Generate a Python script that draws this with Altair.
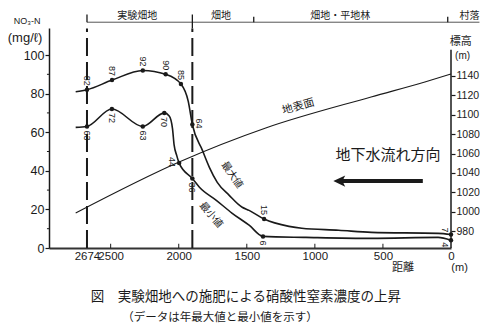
import altair as alt
import pandas as pd

# ---------------- data ----------------
# annual maximum NO3-N curve (distance m, mg/l)
max_d = [2757, 2674, 2490, 2264, 2096, 1984, 1930, 1900, 1826, 1775, 1717, 1629, 1534, 1483, 1373, 1190, 1096, 825, 584, 95, 0]
max_v = [81, 82, 87, 92, 90, 85, 76, 64, 50.6, 41.8, 34, 27.3, 21.1, 19.5, 15, 11.2, 10.2, 9.2, 8.1, 7.6, 7]
# annual minimum NO3-N curve
min_d = [2757, 2674, 2491, 2264, 2106, 2070, 2046, 2034, 2015, 1997, 1900, 1848, 1724, 1607, 1483, 1381, 1066, 584, 95, 0]
min_v = [62.5, 63, 72, 63, 70, 68.4, 62, 53.4, 48, 44, 36, 31.5, 24.7, 18, 11.8, 6, 5.5, 5, 5.5, 4]
# measured (labelled) points
max_pt_d = [2674, 2490, 2264, 2096, 1984, 1900, 1373, 0]
max_pt_v = [82, 87, 92, 90, 85, 64, 15, 7]
max_pt_pos = ["above", "above", "above", "above", "above", "right", "above", "aboveleft"]
min_pt_d = [2674, 2491, 2264, 2106, 1997, 1900, 1381, 0]
min_pt_v = [63, 72, 63, 70, 44, 36, 6, 4]
min_pt_pos = ["below", "below", "below", "below", "left", "below", "below", "belowleft"]
# ground surface elevation (m)
ground_d = [2757, 1997, 1361, 587, 192, 0]
ground_e = [998.6, 1051.2, 1086.3, 1118.3, 1133.8, 1142]
# axes
x_labels = [2674, 2500, 2000, 1500, 1000, 500, 0]
x_inner_ticks = [2500, 2000, 1500, 1000, 500]
y_ticks = [0, 20, 40, 60, 80, 100]
y_minor = [10, 30, 50, 70, 90]
e_ticks = [980, 1000, 1020, 1040, 1060, 1080, 1100, 1120, 1140]
# land-use zones along the top
zone_names = ["実験畑地", "畑地", "畑地・平地林", "村落"]
zone_centers = [2304, 1690, 813, -136]
zone_bounds = [1449, 24]
exp_field = [2674, 1900]

INK = "#1a1a1a"
JP = "Noto Sans CJK JP"
NUM = "Liberation Sans"

XS = alt.Scale(domain=[0, 2953], reverse=True, nice=False, zero=False)
YS = alt.Scale(domain=[0, 114], nice=False, zero=False)
ES = alt.Scale(domain=[962.5, 1189.5], nice=False, zero=False)

XAX = alt.Axis(values=x_labels, title=None, ticks=False, labelFontSize=11.5, labelFont=NUM,
               labelColor=INK, labelPadding=2, labelOverlap=False, labelFlush=False,
               domainColor="#333", domainWidth=2, grid=False, format="d")
YAX = alt.Axis(values=y_ticks, title=None, tickSize=4, tickColor=INK, tickWidth=1.2,
               labelFontSize=12.5, labelFont=NUM, labelColor=INK, labelPadding=1,
               domainColor=INK, domainWidth=1.5, grid=False)
EAX = alt.Axis(orient="right", values=e_ticks, title=None, tickSize=4, tickColor=INK,
               tickWidth=1.2, labelFontSize=10.5, labelFont=NUM, labelColor=INK,
               labelPadding=1, domain=False, grid=False, format="d", labelBound=False)


def X(f="d"):
    return alt.X(f"{f}:Q", scale=XS, axis=XAX)


def Y(f="v"):
    return alt.Y(f"{f}:Q", scale=YS, axis=YAX)


def note(text, d, v, size, angle=0, font=JP, align="center", baseline="middle", weight="normal"):
    df = pd.DataFrame({"d": [d], "v": [v], "t": [text]})
    return alt.Chart(df).mark_text(font=font, fontSize=size, angle=angle, align=align,
                                   baseline=baseline, color=INK, fontWeight=weight).encode(
        x=X(), y=Y(), text="t:N")


layers = []

# dashed boundaries of the experimental field
bdf = pd.DataFrame({"d": exp_field, "v": [0, 0], "v2": [113.8, 113.8]})
layers.append(alt.Chart(bdf).mark_rule(color=INK, strokeWidth=2, strokeDash=[18, 6]).encode(
    x=X(), y=Y(), y2="v2:Q"))

# curves
mdf = pd.DataFrame({"d": max_d, "v": max_v})
ndf = pd.DataFrame({"d": min_d, "v": min_v})
for df in (mdf, ndf):
    layers.append(alt.Chart(df).mark_line(interpolate="monotone", color=INK, strokeWidth=1.6).encode(
        x=X(), y=Y(), order=alt.Order("d:Q", sort="descending")))

# points
pdf = pd.DataFrame({"d": max_pt_d + min_pt_d, "v": max_pt_v + min_pt_v,
                    "pos": max_pt_pos + min_pt_pos})
pdf["lab"] = pdf["v"].astype(int).astype(str)
layers.append(alt.Chart(pdf).mark_point(filled=True, size=20, color=INK, opacity=1).encode(
    x=X(), y=Y()))

# point labels (rotated 90 deg, reading top to bottom)
placements = {
    "above": dict(align="right", dx=-4, dy=0),
    "below": dict(align="left", dx=4, dy=0),
    "right": dict(align="center", dx=-1, dy=-7),
    "left": dict(align="center", dx=-1, dy=7),
    "aboveleft": dict(align="right", dx=-2, dy=6),
    "belowleft": dict(align="left", dx=2, dy=6),
}
for pos, kw in placements.items():
    layers.append(alt.Chart(pdf).transform_filter(alt.datum.pos == pos).mark_text(
        font=NUM, fontSize=9, angle=90, baseline="middle", color=INK, **kw).encode(
        x=X(), y=Y(), text="lab:N"))

# inner x ticks and minor y ticks
tdf = pd.DataFrame({"d": x_inner_ticks, "v": 0, "v2": 2.2})
layers.append(alt.Chart(tdf).mark_rule(color=INK, strokeWidth=1).encode(x=X(), y=Y(), y2="v2:Q"))
mtdf = pd.DataFrame({"d": 2953, "d2": 2968, "v": y_minor})
layers.append(alt.Chart(mtdf).mark_rule(color=INK, strokeWidth=1).encode(x=X(), x2="d2:Q", y=Y()))

# zone bracket along the top
zl = pd.DataFrame({"d": [2674], "d2": [-209], "v": [117]})
layers.append(alt.Chart(zl).mark_rule(color="#555", strokeWidth=1).encode(x=X(), x2="d2:Q", y=Y()))
zt = pd.DataFrame({"d": exp_field + zone_bounds, "v": [117, 113.8, 117, 117],
                   "v2": [121, 121, 119.8, 119.8]})
layers.append(alt.Chart(zt).mark_rule(color=INK, strokeWidth=1.3).encode(x=X(), y=Y(), y2="v2:Q"))
zn = pd.DataFrame({"d": zone_centers, "v": 120, "t": zone_names})
layers.append(alt.Chart(zn).mark_text(font=JP, fontSize=10, color=INK, baseline="middle").encode(
    x=X(), y=Y(), text="t:N"))

# groundwater flow arrow
adf = pd.DataFrame({"d": [828], "d2": [207], "v": [34.7]})
layers.append(alt.Chart(adf).mark_rule(color=INK, strokeWidth=4).encode(x=X(), x2="d2:Q", y=Y()))
hdf = pd.DataFrame({"d": [813], "v": [34.7]})
layers.append(alt.Chart(hdf).mark_point(shape="M -1 0 L 0.7 -0.8 L 0.3 0 L 0.7 0.8 Z", filled=True,
                                        size=196, color=INK, opacity=1).encode(x=X(), y=Y()))

# texts
layers += [
    note("地下水流れ方向", 463, 48.2, 15),
    note("地表面", 1121, 73.1, 11, angle=344),
    note("最大値", 1609, 37.8, 10, angle=55),
    note("最小値", 1763, 17.1, 10, angle=50),
    note("NO₃-N", 3114, 117.6, 9, font=NUM),
    note("(mg/ℓ)", 3129, 108.8, 13, font=NUM),
    note("標高", -71, 106.7, 11),
    note("(m)", -85, 99.5, 10, font=NUM),
    note("距離", 353, -10.4, 11),
    note("(m)", -63, -10.4, 11, font=NUM),
    note("図　実験畑地への施肥による硝酸性窒素濃度の上昇", 1507, -25.4, 13.5),
    note("（データは年最大値と最小値を示す）", 1697, -36.4, 11.5),
]

conc = alt.layer(*layers)

gdf = pd.DataFrame({"d": ground_d, "e": ground_e})
ground = alt.Chart(gdf).mark_line(interpolate="monotone", color=INK, strokeWidth=1.1).encode(
    x=X(), y=alt.Y("e:Q", scale=ES, axis=EAX), order=alt.Order("d:Q", sort="descending"))
rdf = pd.DataFrame({"d": [0], "e": [962.5], "e2": [1167]})
raxis = alt.Chart(rdf).mark_rule(color=INK, strokeWidth=1.5).encode(
    x=X(), y=alt.Y("e:Q", scale=ES, axis=EAX), y2="e2:Q")
elev = alt.layer(ground, raxis)

chart = alt.layer(conc, elev).resolve_scale(y="independent").properties(
    width=402, height=220,
    autosize=alt.AutoSizeParams(type="none"),
    padding={"left": 41, "top": 20, "right": 29, "bottom": 79},
    background="white",
).configure_view(stroke=None)

chart.save("out.html", embed_options={"renderer": "svg", "actions": False})
